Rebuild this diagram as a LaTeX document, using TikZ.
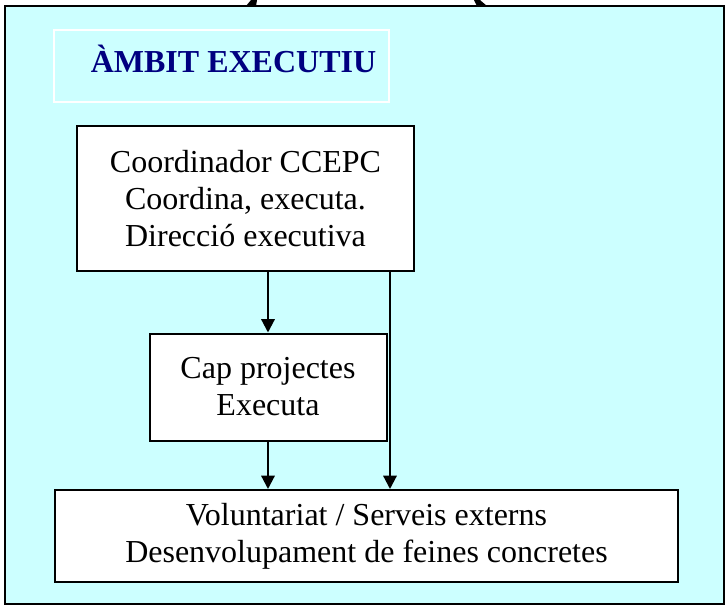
\documentclass[tikz,border=0pt]{standalone}
\usepackage{fontspec}
\setmainfont{Liberation Serif}
\usetikzlibrary{arrows.meta}
\definecolor{framecyan}{HTML}{CCFFFF}
\definecolor{titlenavy}{HTML}{000080}
\begin{document}
\begin{tikzpicture}[x=0.75pt,y=-0.75pt,
  boxstyle/.style={draw=black,line width=1.5pt,fill=white,inner sep=0pt,align=center,
    font=\fontsize{24}{27.75}\selectfont},
  arr/.style={line width=1.6pt,-{Triangle[width=10pt,length=10pt]}},
]
\useasboundingbox (0,0) rectangle (726,608);
% outer frame
\node[draw=black,line width=2pt,fill=framecyan,inner sep=0pt,
  minimum width=719*0.75pt,minimum height=598*0.75pt] (frame) at (364.5,305) {};
% clipped arrowheads at the top edge
\fill[black] (246,6) -- (256,6) -- (257,0) -- (251,0) -- cycle;
\fill[black] (474,0) -- (480,0) -- (487,6) -- (477,6) -- cycle;
% title box
\node[draw=white,line width=1.2pt,inner sep=0pt,
  minimum width=335*0.75pt,minimum height=72*0.75pt] (titlebox) at (221.5,66) {};
\node[anchor=base,inner sep=0pt,text=titlenavy,font=\fontsize{24}{27.75}\selectfont\bfseries]
  (title) at (233.5,72) {ÀMBIT EXECUTIU};
% boxes
\node[boxstyle,minimum width=337*0.75pt,minimum height=145*0.75pt] (b1) at (245.5,198.5)
  {Coordinador CCEPC\\Coordina, executa.\\Direcció executiva};
\node[boxstyle,minimum width=237*0.75pt,minimum height=107*0.75pt] (b2) at (268,387)
  {Cap projectes\\Executa};
\node[boxstyle,minimum width=623*0.75pt,minimum height=92*0.75pt] (b3) at (366.5,536)
  {Voluntariat / Serveis externs\\Desenvolupament de feines concretes};
% connectors
\draw[arr] (b1.south -| b2.north) -- (b2.north);
\coordinate (r1) at (390,271);
\draw[arr] (b1.south -| r1) -- (r1 |- b3.north);
\draw[arr] (b2.south) -- (b2.south |- b3.north);
\end{tikzpicture}
\end{document}
